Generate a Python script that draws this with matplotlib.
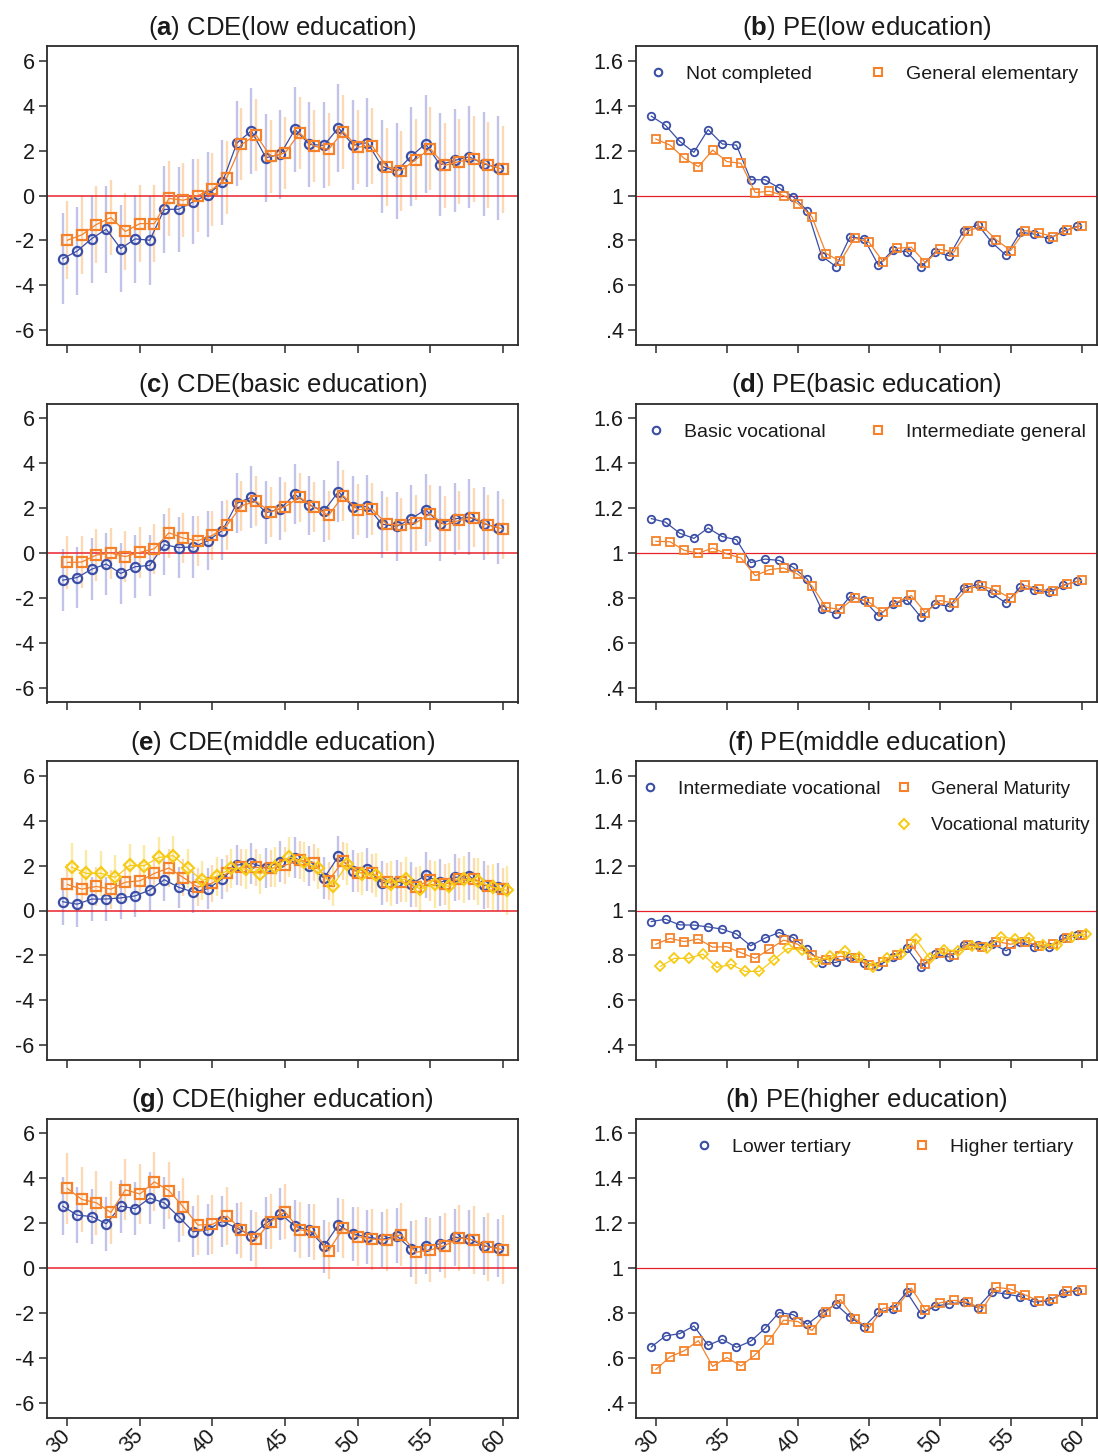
import matplotlib
matplotlib.use('Agg')
import matplotlib.pyplot as plt
from matplotlib.lines import Line2D
from matplotlib.legend import Legend
import numpy as np

plt.rcParams['font.family'] = ['Liberation Sans', 'DejaVu Sans']
plt.rcParams['axes.unicode_minus'] = False
plt.rcParams['mathtext.fontset'] = 'custom'
plt.rcParams['mathtext.rm'] = 'Liberation Sans'
plt.rcParams['mathtext.bf'] = 'Liberation Sans:bold'

# ---------------- data ----------------
ages = list(range(30, 61))
x_ticks = [30, 35, 40, 45, 50, 55, 60]
x_ticklabels = ['30', '35', '40', '45', '50', '55', '60']
cde_ticks = [-6, -4, -2, 0, 2, 4, 6]
cde_ticklabels = ['-6', '-4', '-2', '0', '2', '4', '6']
pe_ticks = [0.4, 0.6, 0.8, 1.0, 1.2, 1.4, 1.6]
pe_ticklabels = ['.4', '.6', '.8', '1', '1.2', '1.4', '1.6']

titles = ['CDE(low education)', 'PE(low education)',
          'CDE(basic education)', 'PE(basic education)',
          'CDE(middle education)', 'PE(middle education)',
          'CDE(higher education)', 'PE(higher education)']
letters = ['a', 'b', 'c', 'd', 'e', 'f', 'g', 'h']

# (a) CDE low education
a_not_completed = [-2.81, -2.47, -1.92, -1.50, -2.36, -1.93, -1.99, -0.62, -0.61, -0.28, 0.04,
                   0.58, 2.33, 2.88, 1.68, 1.83, 2.94, 2.27, 2.23, 3.01, 2.24, 2.35, 1.29,
                   1.08, 1.74, 2.30, 1.37, 1.56, 1.72, 1.41, 1.23]
a_not_completed_hw = [2.03, 1.97, 1.95, 1.93, 1.95, 1.97, 1.99, 1.95, 1.89, 1.89, 1.89, 1.91,
                      1.89, 1.92, 1.95, 1.97, 1.90, 1.90, 1.91, 1.95, 1.99, 1.98, 2.08, 2.13,
                      2.19, 2.19, 2.28, 2.30, 2.28, 2.32, 2.30]
a_general_elem = [-1.99, -1.75, -1.29, -0.98, -1.60, -1.25, -1.25, -0.13, -0.21, 0.00, 0.28,
                  0.80, 2.27, 2.69, 1.74, 1.89, 2.78, 2.20, 2.05, 2.84, 2.15, 2.21, 1.28,
                  1.11, 1.60, 2.09, 1.34, 1.51, 1.63, 1.37, 1.16]
a_general_elem_hw = [1.74, 1.72, 1.70, 1.68, 1.70, 1.70, 1.70, 1.66, 1.64, 1.62, 1.62, 1.62,
                     1.60, 1.60, 1.62, 1.62, 1.60, 1.60, 1.62, 1.64, 1.66, 1.68, 1.74, 1.78,
                     1.82, 1.84, 1.88, 1.90, 1.90, 1.92, 1.93]

# (b) PE low education
b_not_completed = [1.353, 1.312, 1.241, 1.192, 1.293, 1.229, 1.224, 1.070, 1.070, 1.034, 0.994,
                   0.932, 0.731, 0.684, 0.816, 0.807, 0.690, 0.756, 0.750, 0.682, 0.749, 0.731,
                   0.843, 0.871, 0.791, 0.734, 0.837, 0.828, 0.807, 0.841, 0.863]
b_general_elem = [1.251, 1.224, 1.165, 1.128, 1.202, 1.151, 1.143, 1.013, 1.019, 1.000, 0.964,
                  0.905, 0.742, 0.707, 0.810, 0.794, 0.706, 0.765, 0.770, 0.700, 0.761, 0.748,
                  0.843, 0.863, 0.802, 0.755, 0.844, 0.834, 0.817, 0.846, 0.866]

# (c) CDE basic education
c_basic_voc = [-1.21, -1.09, -0.72, -0.49, -0.91, -0.61, -0.55, 0.37, 0.24, 0.27, 0.54, 1.00,
               2.21, 2.48, 1.79, 1.97, 2.61, 2.13, 1.87, 2.73, 2.04, 2.07, 1.28, 1.18, 1.52,
               1.93, 1.30, 1.52, 1.60, 1.31, 1.12]
c_basic_voc_hw = [1.39, 1.37, 1.37, 1.37, 1.37, 1.39, 1.36, 1.36, 1.36, 1.36, 1.31, 1.33, 1.33,
                  1.39, 1.40, 1.40, 1.33, 1.31, 1.36, 1.36, 1.40, 1.42, 1.49, 1.52, 1.49, 1.60,
                  1.67, 1.60, 1.67, 1.63, 1.63]
c_inter_gen = [-0.42, -0.40, -0.09, -0.01, -0.16, 0.03, 0.19, 0.90, 0.66, 0.55, 0.78, 1.24,
               2.10, 2.30, 1.82, 2.06, 2.48, 2.04, 1.67, 2.55, 1.93, 1.96, 1.28, 1.24, 1.34,
               1.75, 1.25, 1.45, 1.57, 1.25, 1.07]
c_inter_gen_hw = [1.18, 1.17, 1.15, 1.14, 1.14, 1.13, 1.12, 1.12, 1.11, 1.11, 1.10, 1.10, 1.10,
                  1.11, 1.12, 1.12, 1.10, 1.10, 1.11, 1.12, 1.14, 1.16, 1.20, 1.22, 1.24, 1.26,
                  1.28, 1.30, 1.31, 1.33, 1.34]

# (d) PE basic education
d_basic_voc = [1.153, 1.137, 1.088, 1.065, 1.111, 1.073, 1.059, 0.957, 0.973, 0.967, 0.936,
               0.883, 0.749, 0.730, 0.807, 0.789, 0.721, 0.773, 0.791, 0.715, 0.774, 0.762,
               0.844, 0.860, 0.820, 0.777, 0.849, 0.835, 0.825, 0.856, 0.874]
d_inter_gen = [1.052, 1.050, 1.012, 0.999, 1.022, 0.996, 0.978, 0.899, 0.926, 0.933, 0.906,
               0.853, 0.758, 0.749, 0.802, 0.782, 0.737, 0.782, 0.811, 0.734, 0.789, 0.777,
               0.843, 0.853, 0.834, 0.798, 0.856, 0.838, 0.831, 0.862, 0.878]

# (e) CDE middle education
e_inter_voc = [0.39, 0.28, 0.51, 0.51, 0.56, 0.65, 0.91, 1.37, 1.03, 0.82, 0.97, 1.40, 2.02,
               2.10, 1.90, 2.17, 2.35, 1.98, 1.44, 2.41, 1.77, 1.83, 1.23, 1.26, 1.17, 1.56,
               1.25, 1.47, 1.53, 1.13, 1.04]
e_inter_voc_hw = [1.04, 1.00, 0.98, 0.97, 0.96, 0.95, 0.94, 0.93, 0.92, 0.92, 0.91, 0.90, 0.90,
                  0.90, 0.90, 0.90, 0.91, 0.91, 0.92, 0.92, 0.94, 0.95, 0.97, 0.98, 1.00, 1.02,
                  1.03, 1.04, 1.05, 1.06, 1.07]
e_gen_mat = [1.16, 0.95, 1.07, 0.95, 1.26, 1.32, 1.65, 1.89, 1.46, 1.04, 1.22, 1.65, 1.93, 1.92,
             1.87, 2.01, 2.24, 2.12, 1.32, 2.20, 1.69, 1.66, 1.25, 1.28, 1.05, 1.35, 1.16, 1.40,
             1.41, 1.08, 0.95]
e_gen_mat_hw = [0.92, 0.90, 0.88, 0.87, 0.86, 0.85, 0.84, 0.83, 0.83, 0.83, 0.82, 0.82, 0.82,
                0.82, 0.82, 0.82, 0.83, 0.83, 0.84, 0.85, 0.86, 0.87, 0.88, 0.89, 0.90, 0.91,
                0.92, 0.93, 0.94, 0.95, 0.96]
e_voc_mat = [1.93, 1.65, 1.66, 1.47, 2.01, 1.99, 2.36, 2.44, 1.87, 1.34, 1.52, 1.87, 1.84, 1.63,
             1.93, 2.39, 2.14, 1.87, 1.10, 2.08, 1.63, 1.56, 1.20, 1.40, 0.95, 1.16, 1.08, 1.38,
             1.29, 1.03, 0.89]
e_voc_mat_hw = [1.06, 1.02, 1.00, 0.98, 0.96, 0.94, 0.92, 0.88, 0.88, 0.88, 0.88, 0.88, 0.88,
                0.88, 0.88, 0.88, 0.89, 0.90, 0.92, 0.94, 0.96, 0.98, 1.00, 1.00, 1.02, 1.03,
                1.04, 1.05, 1.06, 1.06, 1.07]

# (f) PE middle education
f_inter_voc = [0.951, 0.961, 0.936, 0.935, 0.927, 0.917, 0.895, 0.843, 0.877, 0.902, 0.879,
               0.828, 0.766, 0.769, 0.791, 0.766, 0.754, 0.791, 0.833, 0.748, 0.806, 0.793,
               0.847, 0.847, 0.852, 0.821, 0.858, 0.839, 0.836, 0.876, 0.889]
f_gen_mat = [0.850, 0.876, 0.862, 0.873, 0.837, 0.839, 0.812, 0.787, 0.828, 0.868, 0.850,
             0.801, 0.782, 0.796, 0.790, 0.756, 0.773, 0.801, 0.849, 0.761, 0.813, 0.804,
             0.846, 0.837, 0.862, 0.850, 0.862, 0.844, 0.850, 0.879, 0.892]
f_voc_mat = [0.751, 0.787, 0.787, 0.806, 0.747, 0.760, 0.729, 0.729, 0.781, 0.831, 0.824,
             0.772, 0.796, 0.818, 0.791, 0.750, 0.790, 0.807, 0.874, 0.788, 0.825, 0.821,
             0.841, 0.831, 0.883, 0.873, 0.877, 0.846, 0.847, 0.883, 0.896]

# (g) CDE higher education
g_lower_tert = [2.75, 2.35, 2.29, 1.97, 2.75, 2.64, 3.11, 2.90, 2.28, 1.61, 1.70, 2.08, 1.77,
                1.44, 1.99, 2.41, 1.86, 1.67, 0.97, 1.92, 1.52, 1.38, 1.27, 1.44, 0.85, 1.00,
                1.07, 1.37, 1.31, 0.98, 0.88]
g_lower_tert_hw = [1.29, 1.25, 1.22, 1.20, 1.18, 1.17, 1.16, 1.15, 1.14, 1.13, 1.13, 1.13, 1.13,
                   1.14, 1.15, 1.16, 1.16, 1.17, 1.18, 1.19, 1.20, 1.21, 1.22, 1.23, 1.24, 1.25,
                   1.25, 1.26, 1.27, 1.28, 1.28]
g_higher_tert = [3.54, 3.05, 2.90, 2.47, 3.48, 3.29, 3.83, 3.44, 2.71, 1.91, 1.94, 2.31, 1.70,
                 1.28, 2.05, 2.50, 1.70, 1.61, 0.77, 1.76, 1.40, 1.28, 1.25, 1.49, 0.70, 0.80,
                 1.00, 1.34, 1.25, 0.94, 0.82]
g_higher_tert_hw = [1.59, 1.46, 1.43, 1.40, 1.35, 1.33, 1.31, 1.28, 1.28, 1.32, 1.30, 1.28, 1.25,
                    1.22, 1.22, 1.22, 1.24, 1.25, 1.27, 1.30, 1.32, 1.35, 1.38, 1.40, 1.42, 1.44,
                    1.46, 1.48, 1.50, 1.51, 1.52]

# (h) PE higher education
h_lower_tert = [0.649, 0.698, 0.708, 0.742, 0.656, 0.683, 0.647, 0.674, 0.731, 0.802, 0.792,
                0.750, 0.799, 0.839, 0.782, 0.739, 0.803, 0.817, 0.893, 0.796, 0.830, 0.841,
                0.847, 0.824, 0.894, 0.884, 0.873, 0.848, 0.854, 0.888, 0.899]
h_higher_tert = [0.549, 0.605, 0.632, 0.677, 0.562, 0.602, 0.564, 0.614, 0.681, 0.768, 0.762,
                 0.722, 0.805, 0.860, 0.775, 0.731, 0.820, 0.827, 0.911, 0.812, 0.845, 0.856,
                 0.847, 0.817, 0.914, 0.906, 0.881, 0.853, 0.862, 0.896, 0.903]

# ---------------- styling ----------------
BLUE = '#3a4ea6'
ORANGE = '#f5822a'
YELLOW = '#f7cb15'
BLUE_CI = '#c3c3ea'
ORANGE_CI = '#fcd9b6'
YELLOW_CI = '#fbe9a6'
RED = '#e8202a'
SPINE = '#2b2b2b'
TXT = '#1a1a1a'

W, H = 1098, 1456
LEFTS = [47, 636]
WIDTHS = [471, 460.5]
TOPS = [46, 403.5, 761, 1118.5]
AH = 299

TICK_FS = 15.5
TITLE_FS = 18.5
LEG_FS = 14

series_style = {
    'blue': dict(color=BLUE, ci=BLUE_CI, marker='o', off=-0.32),
    'orange': dict(color=ORANGE, ci=ORANGE_CI, marker='s', off=0.0),
    'yellow': dict(color=YELLOW, ci=YELLOW_CI, marker='D', off=0.3),
}
msize_cde = {'o': 6.6, 's': 6.9, 'D': 6.4}
msize_pe = {'o': 5.4, 's': 5.9, 'D': 5.0}

x = np.array(ages, dtype=float)

fig = plt.figure(figsize=(W / 100, H / 100), dpi=100)


def make_ax(col, row):
    return fig.add_axes([LEFTS[col] / W, 1 - (TOPS[row] + AH) / H, WIDTHS[col] / W, AH / H])


def style_ax(ax, kind, bottom, idx):
    ax.set_xlim(28.6, 61.05)
    if kind == 'cde':
        ax.set_ylim(-6.65, 6.65)
        ax.set_yticks(cde_ticks)
        ax.set_yticklabels(cde_ticklabels)
    else:
        ax.set_ylim(0.335, 1.665)
        ax.set_yticks(pe_ticks)
        ax.set_yticklabels(pe_ticklabels)
    ax.set_xticks(x_ticks)
    if bottom:
        ax.set_xticklabels(x_ticklabels, rotation=45, ha='right', va='center',
                           rotation_mode='anchor')
    else:
        ax.set_xticklabels([])
    for s in ax.spines.values():
        s.set_color(SPINE)
        s.set_linewidth(1.3)
    ax.tick_params(axis='both', length=6, width=1.1, color=SPINE, labelsize=TICK_FS,
                   labelcolor=TXT)
    ax.tick_params(axis='y', pad=3)
    ax.tick_params(axis='x', pad=5)
    ax.set_title(r'($\mathbf{%s}$) %s' % (letters[idx], titles[idx]), fontsize=TITLE_FS,
                 pad=8, color=TXT)


def draw_cde(ax, series):
    ax.axhline(0, color=RED, lw=1.1, zorder=2)
    for key, vals, hw in series:
        st = series_style[key]
        v = np.array(vals)
        h = np.array(hw)
        xx = x + st['off']
        ax.vlines(xx, v - h, v + h, color=st['ci'], lw=1.7, zorder=1)
    for key, vals, hw in series:
        st = series_style[key]
        xx = x + st['off']
        ax.plot(xx, vals, color=st['color'], lw=0.9, marker=st['marker'],
                ms=msize_cde[st['marker']], mfc='none', mec=st['color'], mew=1.6, zorder=3)


def draw_pe(ax, series):
    ax.axhline(1, color=RED, lw=0.9, zorder=1)
    for key, vals in series:
        st = series_style[key]
        xx = x + st['off']
        ax.plot(xx, vals, color=st['color'], lw=0.9, marker=st['marker'],
                ms=msize_pe[st['marker']], mfc='none', mec=st['color'], mew=1.3, zorder=3)


def handle(key):
    st = series_style[key]
    return Line2D([], [], linestyle='none', marker=st['marker'], ms=msize_pe[st['marker']],
                  mfc='none', mec=st['color'], mew=1.5)


def add_legend_col(ax, col, keys, labels, marker_px, row_y_px, row, fs=LEG_FS):
    em = fs * 100 / 72
    left_px = marker_px - 0.5 * em
    fx = (left_px - LEFTS[col]) / WIDTHS[col]
    fy = 1 - (row_y_px - TOPS[row]) / AH
    leg = Legend(ax, [handle(k) for k in keys], labels, loc='center left',
                 bbox_to_anchor=(fx, fy), bbox_transform=ax.transAxes,
                 frameon=False, fontsize=fs, handlelength=1.0, handletextpad=0.95,
                 borderpad=0, borderaxespad=0, labelspacing=1.0)
    for t in leg.get_texts():
        t.set_color(TXT)
    ax.add_artist(leg)
    return leg


# (a)
ax = make_ax(0, 0)
draw_cde(ax, [('blue', a_not_completed, a_not_completed_hw),
              ('orange', a_general_elem, a_general_elem_hw)])
style_ax(ax, 'cde', False, 0)

# (b)
ax = make_ax(1, 0)
draw_pe(ax, [('blue', b_not_completed), ('orange', b_general_elem)])
style_ax(ax, 'pe', False, 1)
add_legend_col(ax, 1, ['blue'], ['Not completed'], 658, 74, 0)
add_legend_col(ax, 1, ['orange'], ['General elementary'], 878, 74, 0)

# (c)
ax = make_ax(0, 1)
draw_cde(ax, [('blue', c_basic_voc, c_basic_voc_hw),
              ('orange', c_inter_gen, c_inter_gen_hw)])
style_ax(ax, 'cde', False, 2)

# (d)
ax = make_ax(1, 1)
draw_pe(ax, [('blue', d_basic_voc), ('orange', d_inter_gen)])
style_ax(ax, 'pe', False, 3)
add_legend_col(ax, 1, ['blue'], ['Basic vocational'], 656, 432, 1)
add_legend_col(ax, 1, ['orange'], ['Intermediate general'], 878, 432, 1)

# (e)
ax = make_ax(0, 2)
draw_cde(ax, [('blue', e_inter_voc, e_inter_voc_hw),
              ('orange', e_gen_mat, e_gen_mat_hw),
              ('yellow', e_voc_mat, e_voc_mat_hw)])
style_ax(ax, 'cde', False, 4)

# (f)
ax = make_ax(1, 2)
draw_pe(ax, [('blue', f_inter_voc), ('orange', f_gen_mat), ('yellow', f_voc_mat)])
style_ax(ax, 'pe', False, 5)
add_legend_col(ax, 1, ['blue'], ['Intermediate vocational'], 650, 789, 2)
add_legend_col(ax, 1, ['orange', 'yellow'], ['General Maturity', 'Vocational maturity'],
               904, 807.5, 2, fs=13.6)

# (g)
ax = make_ax(0, 3)
draw_cde(ax, [('blue', g_lower_tert, g_lower_tert_hw),
              ('orange', g_higher_tert, g_higher_tert_hw)])
style_ax(ax, 'cde', True, 6)

# (h)
ax = make_ax(1, 3)
draw_pe(ax, [('blue', h_lower_tert), ('orange', h_higher_tert)])
style_ax(ax, 'pe', True, 7)
add_legend_col(ax, 1, ['blue'], ['Lower tertiary'], 704, 1147, 3)
add_legend_col(ax, 1, ['orange'], ['Higher tertiary'], 922, 1147, 3)

fig.savefig('out.png', dpi=100, facecolor='white')
